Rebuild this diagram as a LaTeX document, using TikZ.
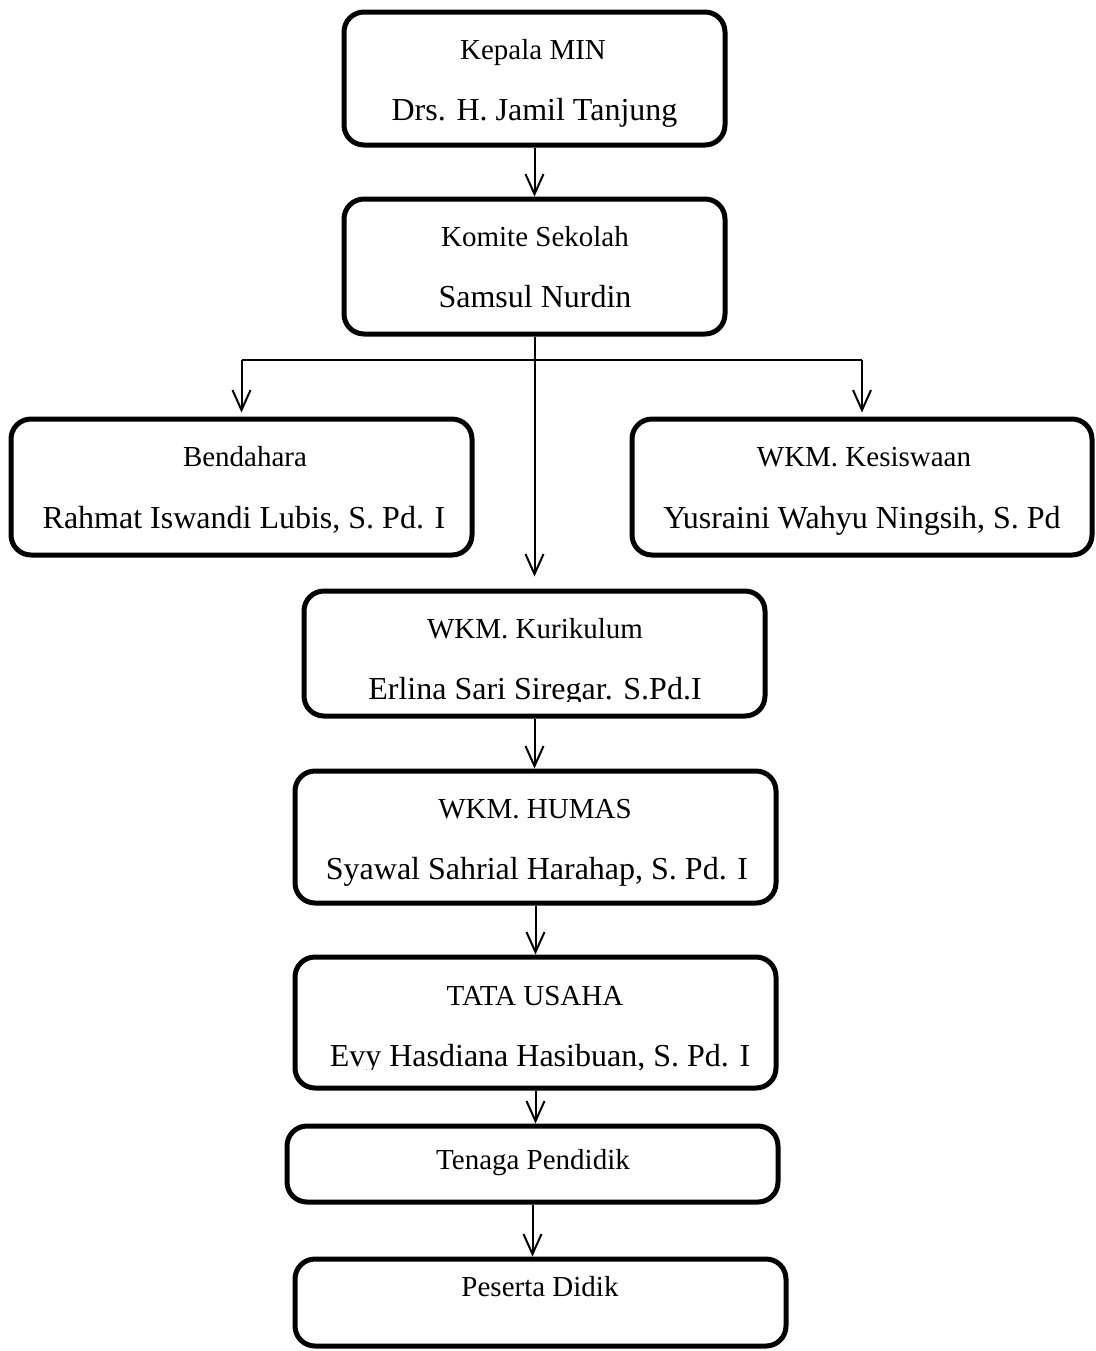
\documentclass[tikz,border=0pt]{standalone}
\usepackage{fontspec}
\setmainfont{Liberation Serif}
\usetikzlibrary{arrows.meta, positioning}

\tikzset{
  unit box/.style={draw, line width=2.5pt, rounded corners=10pt, inner sep=0pt},
  title text/.style={font=\fontsize{14.5}{17}\selectfont, anchor=base, inner sep=0pt},
  name text/.style={font=\fontsize{16}{19}\selectfont, anchor=base, inner sep=0pt},
  link/.style={line width=1pt, -{Straight Barb[length=10pt, width=9pt, line width=1pt]}}
}

\begin{document}
\begin{tikzpicture}[x=0.5pt, y=-0.5pt]
  \useasboundingbox (0,0) rectangle (1096,1351);
  % pimpinan
  \node[unit box, minimum width=190.5pt, minimum height=66.5pt] (kepala) at (534.5,78.5) {};
  \node[title text] (kepala-t) at (533,59) {Kepala MIN};
  \node[name text] (kepala-n) at (534.5,120) {Drs. H. Jamil Tanjung};
  % komite
  \node[unit box, minimum width=190.5pt, minimum height=67.5pt] (komite) at (534.5,266.5) {};
  \node[title text] (komite-t) at (535,246) {Komite Sekolah};
  \node[name text] (komite-n) at (535,307) {Samsul Nurdin};
  % bendahara dan kesiswaan
  \node[unit box, minimum width=230.5pt, minimum height=68pt] (bendahara) at (241.5,487) {};
  \node[title text] (bendahara-t) at (245,466) {Bendahara};
  \node[name text] (bendahara-n) at (244,528) {Rahmat Iswandi Lubis, S. Pd. I};
  \node[unit box, minimum width=230pt, minimum height=68pt] (kesiswaan) at (862,487) {};
  \node[title text] (kesiswaan-t) at (864,466) {WKM. Kesiswaan};
  \node[name text] (kesiswaan-n) at (862,528) {Yusraini Wahyu Ningsih, S. Pd};
  % kurikulum
  \node[unit box, minimum width=230.5pt, minimum height=62.5pt] (kurikulum) at (534.5,653.5) {};
  \node[title text] (kurikulum-t) at (535,638) {WKM. Kurikulum};
  \begin{scope}
    \clip (300,600) rectangle (770,701);
    \node[name text] (kurikulum-n) at (535,699) {Erlina Sari Siregar. S.Pd.I};
  \end{scope}
  % humas
  \node[unit box, minimum width=240.5pt, minimum height=66pt] (humas) at (535.5,837) {};
  \node[title text] (humas-t) at (535,818) {WKM. HUMAS};
  \node[name text] (humas-n) at (537,879) {Syawal Sahrial Harahap, S. Pd. I};
  % tata usaha
  \node[unit box, minimum width=240.5pt, minimum height=65.5pt] (tatausaha) at (535.5,1022.5) {};
  \node[title text] (tatausaha-t) at (535,1005) {TATA USAHA};
  \begin{scope}
    \clip (300,1000) rectangle (770,1069);
    \node[name text] (tatausaha-n) at (540,1066) {Evy Hasdiana Hasibuan, S. Pd. I};
  \end{scope}
  % tenaga pendidik
  \node[unit box, minimum width=245.5pt, minimum height=38pt] (tenaga) at (532.5,1164) {};
  \node[title text] (tenaga-t) at (533,1169) {Tenaga Pendidik};
  % peserta didik
  \node[unit box, minimum width=245.5pt, minimum height=43.5pt] (peserta) at (540.5,1302.5) {};
  \node[title text] (peserta-t) at (540,1296) {Peserta Didik};
  % garis
  \coordinate (fork) at (536,360);
  \draw[link] (kepala.south) -- (komite.north);
  \draw[link, shorten >=6pt] (komite.south) -- (kurikulum.north);
  \draw[line width=1pt] (fork -| bendahara.north) -- (fork -| kesiswaan.north);
  \draw[link, shorten >=2pt] (fork -| bendahara.north) -- (bendahara.north);
  \draw[link, shorten >=2pt] (fork -| kesiswaan.north) -- (kesiswaan.north);
  \draw[link] (kurikulum.south) -- (kurikulum.south |- humas.north);
  \draw[link] (humas.south) -- (humas.south |- tatausaha.north);
  \draw[link] (tatausaha.south) -- (tatausaha.south |- tenaga.north);
  \draw[link] (tenaga.south) -- (tenaga.south |- peserta.north);
\end{tikzpicture}
\end{document}
